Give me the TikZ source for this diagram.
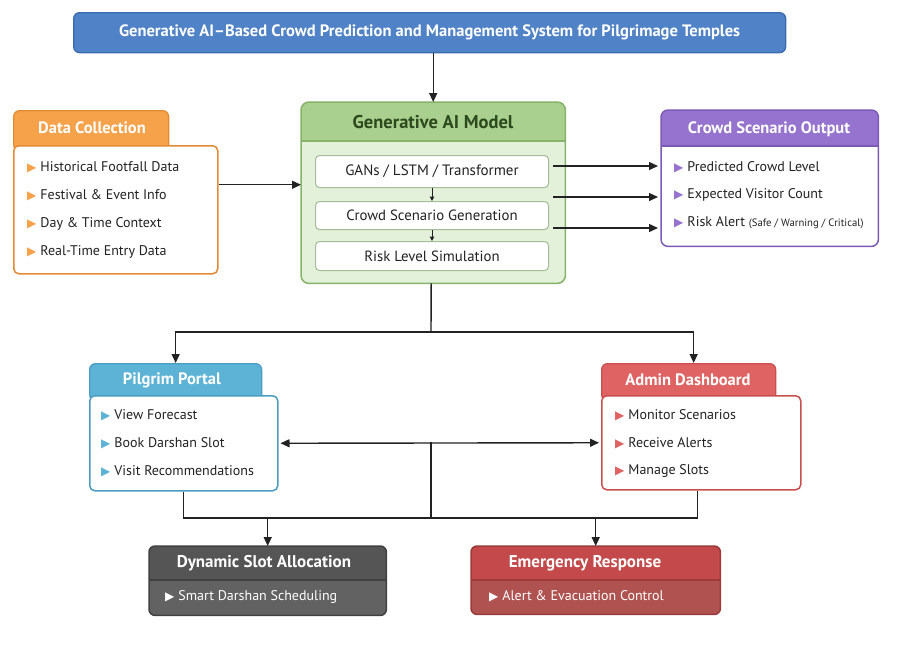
\documentclass[tikz,border=0pt]{standalone}
\usepackage{fontspec}
\setmainfont{PT Sans}
\newfontfamily\dv{DejaVu Sans}
\usetikzlibrary{arrows.meta,calc}
\definecolor{titleFill}{HTML}{4F82C6}
\definecolor{titleLine}{HTML}{3B6BAE}
\definecolor{orgFill}{HTML}{F6A24B}
\definecolor{orgLine}{HTML}{E38A34}
\definecolor{genHead}{HTML}{A9D08E}
\definecolor{genBody}{HTML}{E3F0DA}
\definecolor{genLine}{HTML}{86B26A}
\definecolor{genText}{HTML}{2D4A1E}
\definecolor{purFill}{HTML}{9673CE}
\definecolor{purLine}{HTML}{7C5BB7}
\definecolor{bluFill}{HTML}{5DB3D6}
\definecolor{bluLine}{HTML}{4A9DC0}
\definecolor{redFill}{HTML}{E06363}
\definecolor{redLine}{HTML}{C94F4F}
\definecolor{dynHead}{HTML}{555555}
\definecolor{dynBody}{HTML}{626262}
\definecolor{dynLine}{HTML}{404040}
\definecolor{emHead}{HTML}{C4494A}
\definecolor{emBody}{HTML}{B05350}
\definecolor{emLine}{HTML}{9A3A3A}
\definecolor{txt}{HTML}{222222}
\newcommand\bul[1]{{\dv\color{#1}\fontsize{12}{10}\selectfont ▶}\hspace{4pt}}
\tikzset{
  arr/.style={-{Triangle[length=9pt,width=8pt]}, line width=1.4pt, draw=txt},
  arrsmall/.style={-{Triangle[length=4.5pt,width=4.5pt]}, line width=1pt, draw=txt},
  dblarr/.style={{Triangle[length=9pt,width=8pt]}-{Triangle[length=9pt,width=8pt]}, line width=1.4pt, draw=txt},
  ln/.style={line width=1.4pt, draw=txt},
  tabbox/.style={rounded corners=6pt, anchor=north west, inner sep=0pt, line width=1.3pt},
  bodybox/.style={rounded corners=5pt, anchor=north west, inner sep=0pt, fill=white, line width=1.5pt},
  item/.style={anchor=west, inner sep=0pt, text=txt, font=\fontsize{14}{16}\selectfont},
  head/.style={inner sep=0pt, text=white, font=\bfseries\fontsize{16.5}{18}\selectfont},
  inbox/.style={rounded corners=4pt, anchor=north west, inner sep=0pt, fill=white, draw=genLine!80!black!60, line width=1pt, minimum width=233pt, text=txt, font=\fontsize{15}{17}\selectfont}
}
\begin{document}
\begin{tikzpicture}[x=1pt,y=-1pt]
\useasboundingbox (0,0) rectangle (915,654);
% Title
\node[anchor=north west, minimum width=712pt, minimum height=40pt, rounded corners=6pt, fill=titleFill, draw=titleLine, line width=1.3pt, text=white, font=\bfseries\fontsize{16.5}{18}\selectfont, inner sep=0pt] (title) at (73,12) {Generative AI–Based Crowd Prediction and Management System for Pilgrimage Temples};

% Data collection
\node[tabbox, fill=orgFill, draw=orgLine, minimum width=155pt, minimum height=40pt] (dctab) at (13,110) {};
\node[bodybox, draw=orgLine, minimum width=204pt, minimum height=128pt] (dcbody) at (13,145) {};
\node[head] (dct) at (92,128) {Data Collection};
\node[item] (dc1) at (27,167) {\bul{orgFill}Historical Footfall Data};
\node[item] (dc2) at (27,195) {\bul{orgFill}Festival \& Event Info};
\node[item] (dc3) at (27,224) {\bul{orgFill}Day \& Time Context};
\node[item] (dc4) at (27,252) {\bul{orgFill}Real-Time Entry Data};

% Generative AI model
\node[anchor=north west, minimum width=264pt, minimum height=181pt, inner sep=0pt, rounded corners=8pt, fill=genBody] (gen) at (301,102) {};
\fill[genHead] (301,141) [rounded corners=8pt]-- (301,102) -- (565,102) [sharp corners]-- (565,141) -- cycle;
\draw[genLine, line width=1.3pt] (301,141) -- (565,141);
\draw[genLine, line width=1.5pt, rounded corners=8pt] (gen.north west) rectangle (gen.south east);
\node[inner sep=0pt, text=genText, font=\bfseries\fontsize{18.5}{20}\selectfont] (gent) at (433,122) {Generative AI Model};
\node[inbox, minimum height=32pt] (gans) at (315,155) {GANs / LSTM / Transformer};
\node[inbox, minimum height=28pt, font=\fontsize{14.8}{16}\selectfont] (csg) at (315,201) {Crowd Scenario Generation};
\node[inbox, minimum height=29pt, font=\fontsize{14.8}{16}\selectfont] (rls) at (315,241) {Risk Level Simulation};
\draw[arrsmall] (gans.south) -- (csg.north);
\draw[arrsmall] (csg.south) -- (rls.north);

% Crowd scenario output
\node[anchor=north west, minimum width=217pt, minimum height=136pt, inner sep=0pt, rounded corners=7pt, fill=white] (out) at (661,110) {};
\fill[purFill] (661,146) [rounded corners=7pt]-- (661,110) -- (878,110) [sharp corners]-- (878,146) -- cycle;
\draw[purLine, line width=1.3pt] (661,146) -- (878,146);
\draw[purLine, line width=1.5pt, rounded corners=7pt] (out.north west) rectangle (out.south east);
\node[head] (outt) at (769,129) {Crowd Scenario Output};
\node[item] (o1) at (674,167) {\bul{purFill}Predicted Crowd Level};
\node[item] (o2) at (674,195) {\bul{purFill}Expected Visitor Count};
\node[item] (o3) at (674,223) {\bul{purFill}Risk Alert {\fontsize{10.7}{12}\selectfont (Safe / Warning / Critical)}};

% Pilgrim portal
\node[tabbox, fill=bluFill, draw=bluLine, minimum width=172pt, minimum height=37pt] (pptab) at (89,363) {};
\node[bodybox, draw=bluLine, minimum width=188pt, minimum height=95pt] (ppbody) at (89,395) {};
\node[head] (ppt) at (172,380) {Pilgrim Portal};
\node[item] (p1) at (101,415) {\bul{bluFill}View Forecast};
\node[item] (p2) at (101,443) {\bul{bluFill}Book Darshan Slot};
\node[item] (p3) at (101,471) {\bul{bluFill}Visit Recommendations};

% Admin dashboard
\node[tabbox, fill=redFill, draw=redLine, minimum width=174pt, minimum height=37pt] (adtab) at (601,363) {};
\node[bodybox, draw=redLine, minimum width=199pt, minimum height=94pt] (adbody) at (601,395) {};
\node[head] (adt) at (688,380) {Admin Dashboard};
\node[item] (a1) at (615,415) {\bul{redFill}Monitor Scenarios};
\node[item] (a2) at (615,443) {\bul{redFill}Receive Alerts};
\node[item] (a3) at (615,471) {\bul{redFill}Manage Slots};

% Dynamic slot allocation
\node[anchor=north west, minimum width=237pt, minimum height=69pt, inner sep=0pt, rounded corners=6pt, fill=dynBody] (dyn) at (149,546) {};
\fill[dynHead] (149,580) [rounded corners=6pt]-- (149,546) -- (386,546) [sharp corners]-- (386,580) -- cycle;
\draw[dynLine, line width=1.3pt] (149,580) -- (386,580);
\draw[dynLine, line width=1.5pt, rounded corners=6pt] (dyn.north west) rectangle (dyn.south east);
\node[head, font=\bfseries\fontsize{17}{19}\selectfont] (dynt) at (264,563) {Dynamic Slot Allocation};
\node[item, text=white] (dyn1) at (165,597) {\bul{white}Smart Darshan Scheduling};

% Emergency response
\node[anchor=north west, minimum width=249pt, minimum height=68pt, inner sep=0pt, rounded corners=6pt, fill=emBody] (em) at (471,546) {};
\fill[emHead] (471,580) [rounded corners=6pt]-- (471,546) -- (720,546) [sharp corners]-- (720,580) -- cycle;
\draw[emLine, line width=1.3pt] (471,580) -- (720,580);
\draw[emLine, line width=1.5pt, rounded corners=6pt] (em.north west) rectangle (em.south east);
\node[head, font=\bfseries\fontsize{17}{19}\selectfont] (emt) at (585,563) {Emergency Response};
\node[item, text=white] (em1) at (489,596) {\bul{white}Alert \& Evacuation Control};

% Connectors
\draw[arr] (title.south -| gen.north) -- (gen.north);
\draw[arr] ([yshift=25pt]dcbody.east) -- ([yshift=25pt]dcbody.east -| gen.west);
\coordinate (s1) at (553,166);
\coordinate (s2) at (553,197);
\coordinate (s3) at (553,228);
\draw[arr] (s1) -- ([xshift=-3pt]s1 -| out.west);
\draw[arr] (s2) -- ([xshift=-3pt]s2 -| out.west);
\draw[arr] (s3) -- ([xshift=-3pt]s3 -| out.west);
\coordinate (split) at (431,332);
\draw[ln] ([xshift=-2pt]gen.south) -- (split);
\draw[arr] (split) -| (pptab.north);
\draw[arr] (split) -| ([xshift=5pt]adtab.north);
\draw[dblarr] ([xshift=2pt]ppbody.east) -- ([xshift=-2pt]adbody.west);
\coordinate (mid) at (431,442);
\coordinate (bus) at (431,518);
\draw[ln] (mid) -- (bus);
\draw[ln] (ppbody.south) -- (ppbody.south |- bus) -- ([xshift=-4pt]adbody.south |- bus) -- ([xshift=-4pt]adbody.south);
\draw[arr] (dyn.north |- bus) -- (dyn.north);
\draw[arr] (em.north |- bus) -- (em.north);
\end{tikzpicture}
\end{document}
